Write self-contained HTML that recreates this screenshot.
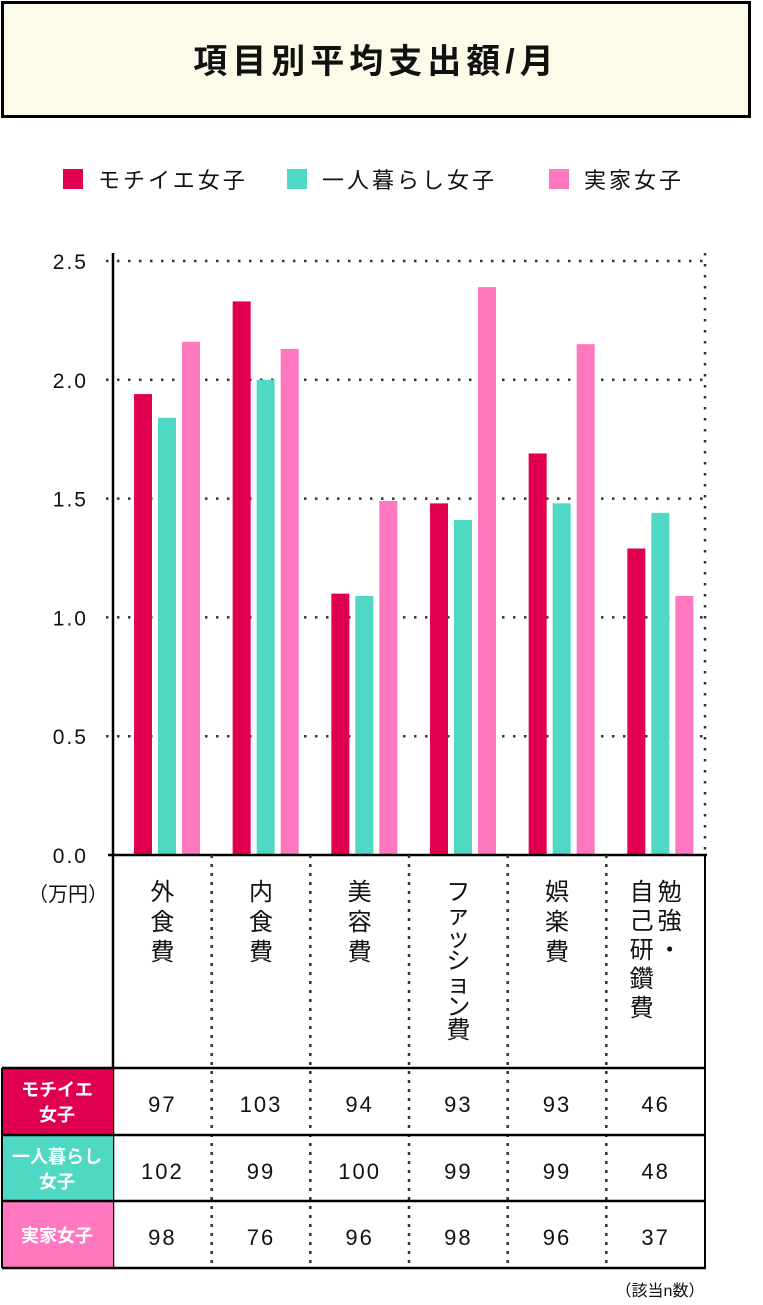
<!DOCTYPE html>
<html><head><meta charset="utf-8">
<style>
body{margin:0;background:#fff;}
svg text{font-family:"Liberation Sans","Noto Sans CJK JP",sans-serif;fill:#111;}
</style></head>
<body>
<svg width="763" height="1300" viewBox="0 0 763 1300" xmlns="http://www.w3.org/2000/svg" id="chart">
<rect x="2.5" y="2.5" width="747" height="114" fill="#fcfbe9" stroke="#000" stroke-width="3"/>
<text x="376" y="73" font-size="34" text-anchor="middle" letter-spacing="5" font-weight="bold">項目別平均支出額/月</text>
<g id="legend"></g>
<g id="grid"></g>
<g id="bars"></g>
<g id="table"></g>
<text x="660" y="1296" font-size="16" text-anchor="middle">（該当n数）</text>
</svg>
<script>
const categories=[["外","食","費"],["内","食","費"],["美","容","費"],["フ","ァ","ッ","シ","ョ","ン","費"],["娯","楽","費"],["自己研鑽費","勉強・"]];
const seriesNames=["モチイエ女子","一人暮らし女子","実家女子"];
const mochiie=[1.94,2.33,1.10,1.48,1.69,1.29];
const hitori=[1.84,2.00,1.09,1.41,1.48,1.44];
const jikka=[2.16,2.13,1.49,2.39,2.15,1.09];
const yTicks=[0,0.5,1.0,1.5,2.0,2.5];
const nMochiie=[97,103,94,93,93,46];
const nHitori=[102,99,100,99,99,48];
const nJikka=[98,76,96,98,96,37];
const colors=["#e0004f","#4fd8c4","#ff78bf"];
const NS="http://www.w3.org/2000/svg";
function mk(tag,attrs,parent,txt){const e=document.createElementNS(NS,tag);for(const k in attrs)e.setAttribute(k,attrs[k]);if(txt!==undefined)e.textContent=txt;parent.appendChild(e);return e;}
const X0=113,X1=705,Y0=855,YT=261;
const y=v=>Y0-(v/2.5)*(Y0-YT);
const gw=(X1-X0)/categories.length;
const gx=i=>X0+i*gw;
const legend=document.getElementById('legend');
const lx=[63,287,549];
seriesNames.forEach((n,i)=>{
 const r=mk('rect',{x:lx[i],y:169,width:20,height:20,fill:colors[i]},legend);
 
 
 const t=mk('text',{x:lx[i]+35,y:188,'font-size':22,'letter-spacing':3},legend,n);
 
 
});
const grid=document.getElementById('grid');
yTicks.forEach(v=>{
 if(v>0){const l=mk('line',{x1:106,x2:X1,y1:y(v),y2:y(v),stroke:'#333','stroke-width':2.5,'stroke-dasharray':'2.5 8.5'},grid);
 
 }
 const t=mk('text',{x:88,y:y(v)+8,'font-size':21,'text-anchor':'end','letter-spacing':2},grid,v.toFixed(1));
 
 
});
const bars=document.getElementById('bars');
[mochiie,hitori,jikka].forEach((s,si)=>{
 s.forEach((v,i)=>{
  const bx=gx(i)+21+si*24;
  const r=mk('rect',{x:bx,y:y(v),width:18,height:Y0-y(v),fill:colors[si]},bars);
  
  
 });
});
const tb=document.getElementById('table');
mk('line',{x1:X0,x2:X0,y1:253,y2:1269,stroke:'#000','stroke-width':2.5},tb);
mk('line',{x1:X1,x2:X1,y1:855,y2:1269,stroke:'#000','stroke-width':2},tb);
mk('line',{x1:108,x2:X1+2,y1:Y0,y2:Y0,stroke:'#000','stroke-width':2.5},tb);
mk('line',{x1:X1,x2:X1,y1:253,y2:Y0,stroke:'#333','stroke-width':2.5,'stroke-dasharray':'2.5 8.5'},tb);
for(let i=1;i<categories.length;i++){
 const l=mk('line',{x1:gx(i),x2:gx(i),y1:Y0,y2:1268,stroke:'#333','stroke-width':2.5,'stroke-dasharray':'3 6'},tb);
 
 
}
const ut=mk('text',{x:68,y:901,'font-size':20,'text-anchor':'middle'},tb,'（万円）');


categories.forEach((c,i)=>{
 const cx=gx(i)+gw/2;
 if(i===5){
  [["自","己","研","鑽","費"],["勉","強","・"]].forEach((col,ci)=>{
   col.forEach((ch,k)=>{const t=mk('text',{x:cx+(ci===0?-14:14),y:900+k*29,'font-size':24,'text-anchor':'middle'},tb,ch);
   
   });
  });
 } else {
  const sp=c.length>3?23:30;
  c.forEach((ch,k)=>{const t=mk('text',{x:cx,y:900+k*sp,'font-size':24,'text-anchor':'middle'},tb,ch);
  
  });
 }
});
const rowsY=[1068,1135,1201];
const rowLabels=[["モチイエ","女子"],["一人暮らし","女子"],["実家女子"]];
[nMochiie,nHitori,nJikka].forEach((row,ri)=>{
 const ry=rowsY[ri];
 const hr=mk('rect',{x:2,y:ry,width:X0-2,height:67,fill:colors[ri]},tb);
 
 
 const lines=rowLabels[ri];
 lines.forEach((ln,k)=>{
  const yy=lines.length===1?ry+41:ry+28+k*25;
  const t=mk('text',{x:57,y:yy,'font-size':18,'text-anchor':'middle','font-weight':'bold',style:'fill:#fff'},tb,ln);
  
  
 });
 row.forEach((v,i)=>{
  const t=mk('text',{x:gx(i)+gw/2,y:ry+44,'font-size':22,'text-anchor':'middle','letter-spacing':2},tb,v);
  
  
 });
 mk('line',{x1:2,x2:X1+1,y1:ry,y2:ry,stroke:'#000','stroke-width':2.5},tb);
});
mk('line',{x1:2,x2:X1+1,y1:1268,y2:1268,stroke:'#000','stroke-width':2.5},tb);
mk('line',{x1:2,x2:2,y1:1068,y2:1268,stroke:'#000','stroke-width':2},tb);
</script>
</body></html>
